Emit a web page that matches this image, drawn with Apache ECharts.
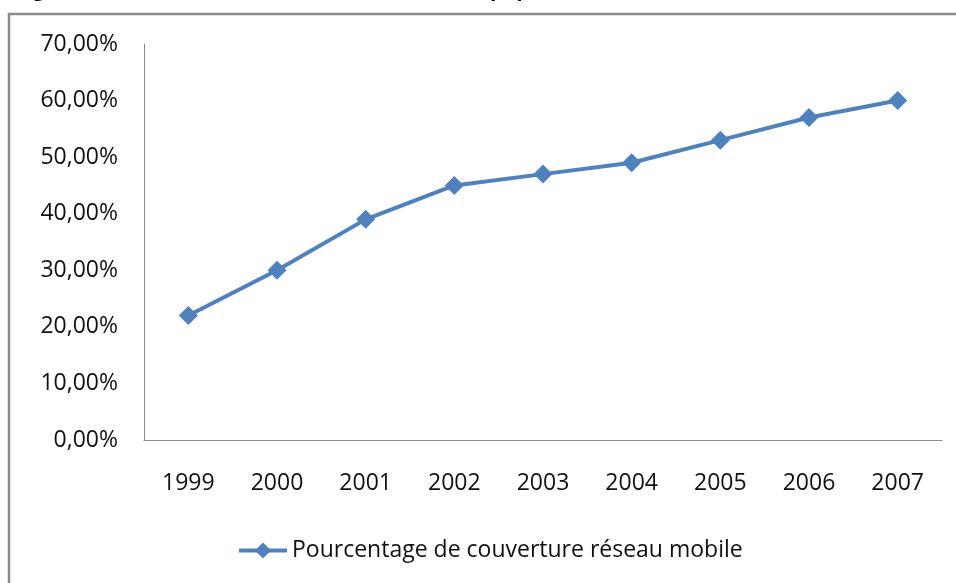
<!DOCTYPE html>
<html>
<head>
<meta charset="utf-8">
<script src="https://cdn.jsdelivr.net/npm/echarts@6/dist/echarts.min.js"></script>
<style>
  html, body { margin: 0; padding: 0; background: #fff; }
  #chart { width: 956px; height: 583px; }
</style>
</head>
<body>
<div id="chart"></div>
<script>
  // annees et taux de couverture
  var annees = ['1999', '2000', '2001', '2002', '2003', '2004', '2005', '2006', '2007'];
  var couverture = [0.22, 0.30, 0.39, 0.45, 0.47, 0.49, 0.53, 0.57, 0.60];
  var nomSerie = 'Pourcentage de couverture réseau mobile';
  var titre = 'Figure 5 : Evolution du taux de couverture en population du réseau mobile (source : ARPT, 2008)';

  var police = '"Open Sans", Lato, sans-serif';

  // formate 0.7 -> "70,00%"
  var pct = function (v) {
    return (v * 100).toFixed(2).replace('.', ',') + '%';
  };

  var myChart = echarts.init(document.getElementById('chart'));
  myChart.setOption({
    animation: false,
    backgroundColor: '#fff',
    title: {
      text: titre,
      left: 10,
      top: -25,
      textStyle: { fontFamily: police, fontSize: 21, fontWeight: 'bold', color: '#000' }
    },
    graphic: [{
      type: 'rect',
      shape: { x: 9, y: 14, width: 960, height: 600 },
      style: { fill: 'none', stroke: '#8c8c8c', lineWidth: 2.5 },
      silent: true
    }],
    grid: { left: 144, right: 14, top: 44, bottom: 143 },
    legend: {
      data: [nomSerie],
      bottom: 16,
      left: 232,
      itemWidth: 48,
      itemHeight: 20,
      itemGap: 5,
      lineStyle: { width: 4 },
      textStyle: { fontFamily: police, fontSize: 23, color: '#111' }
    },
    xAxis: {
      type: 'category',
      data: annees,
      boundaryGap: true,
      axisLine: { lineStyle: { color: '#8c8c8c', width: 1 } },
      axisTick: { show: false },
      axisLabel: { margin: 32, fontFamily: police, fontSize: 23, color: '#111' }
    },
    yAxis: {
      type: 'value',
      min: 0,
      max: 0.7,
      interval: 0.1,
      axisLine: { show: true, lineStyle: { color: '#8c8c8c', width: 1 } },
      axisTick: { show: false },
      splitLine: { show: false },
      axisLabel: { margin: 26, formatter: pct, fontFamily: police, fontSize: 23, color: '#111' }
    },
    series: [{
      name: nomSerie,
      type: 'line',
      data: couverture,
      symbol: 'diamond',
      symbolSize: 19,
      lineStyle: { color: '#4f81bd', width: 4 },
      itemStyle: { color: '#4f81bd' }
    }]
  });
</script>
</body>
</html>
